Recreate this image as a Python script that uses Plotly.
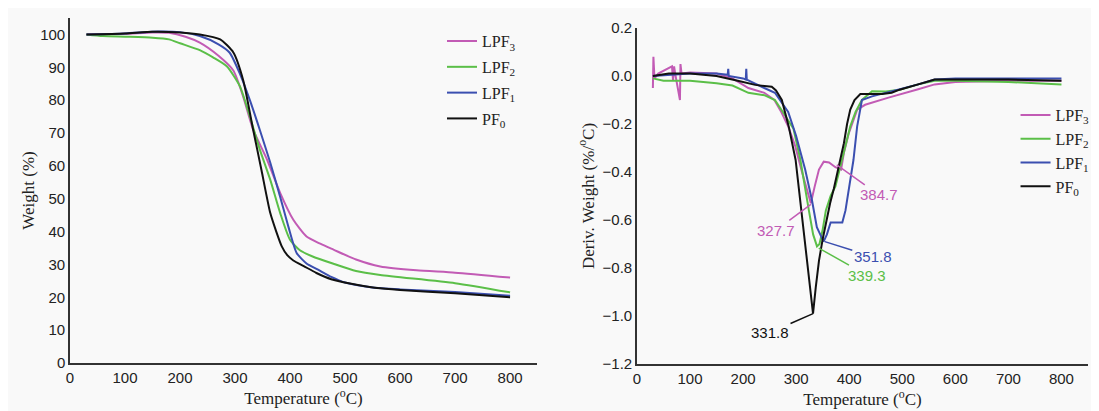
import plotly.graph_objects as go

# TGA curves (weight %, left panel)
t_pf0 = [30, 100, 150, 200, 236, 273, 297, 315, 333, 348, 364, 375, 385, 395, 406, 425, 448, 475, 509, 558, 600, 700, 800]
w_pf0 = [100, 100.3, 100.8, 100.6, 100, 98.5, 94.5, 86, 71, 58.8, 45.7, 40, 35.5, 32.8, 31.2, 29.5, 27.4, 25.5, 24.2, 22.8, 22.2, 21.2, 20]

t_lpf1 = [30, 100, 160, 200, 236, 270, 290, 309, 327, 345, 364, 382, 397, 412, 430, 450, 475, 500, 550, 600, 700, 800]
w_lpf1 = [100, 100.3, 100.9, 100.7, 99.5, 97, 94.5, 88, 80, 71, 61, 50.6, 41.5, 33.5, 30.3, 28.5, 26.2, 24.5, 23, 22.4, 21.6, 20.5]

t_lpf2 = [30, 60, 100, 150, 180, 200, 236, 260, 285, 309, 327, 345, 364, 382, 400, 418, 440, 479, 520, 564, 700, 800]
w_lpf2 = [100, 99.5, 99.3, 99, 98.5, 97.3, 95.2, 93, 90.3, 84.2, 75, 65, 55.8, 45.7, 37.5, 34.3, 32.5, 30.2, 28, 26.8, 24.3, 21.5]

t_lpf3 = [30, 100, 150, 180, 210, 236, 270, 297, 315, 333, 358, 382, 406, 430, 455, 479, 520, 564, 630, 700, 800]
w_lpf3 = [100, 100.2, 100.6, 100.5, 99.3, 97.5, 93.5, 89, 81, 71, 62, 51.8, 43.6, 38.5, 36.3, 34.5, 31.5, 29.4, 28.2, 27.5, 26]

# DTG curves (deriv. weight %/C, right panel)
td_pf0 = [30, 60, 100, 150, 190, 223, 254, 262, 273, 286, 299, 307, 314, 322, 331.8, 337, 343, 350, 357, 364, 371, 380, 390, 396, 402, 410, 421, 440, 462, 480, 495, 530, 561, 600, 700, 800]
d_pf0 = [0, 0.01, 0.01, 0, -0.02, -0.037, -0.045, -0.06, -0.1, -0.21, -0.35, -0.5, -0.63, -0.8, -0.99, -0.88, -0.77, -0.68, -0.6, -0.53, -0.47, -0.38, -0.28, -0.2, -0.14, -0.1, -0.075, -0.075, -0.075, -0.07, -0.057, -0.035, -0.015, -0.015, -0.015, -0.02]

td_lpf1 = [30, 100, 150, 171, 172, 173, 200, 205, 206, 207, 240, 260, 285, 300, 317, 330, 339, 351.8, 358, 365, 375, 387, 393, 400, 408, 415, 424, 443, 470, 495, 530, 561, 600, 700, 800]
d_lpf1 = [0, 0.01, 0.01, 0.005, 0.03, 0.0, -0.01, -0.015, 0.03, -0.015, -0.05, -0.07, -0.15, -0.25, -0.39, -0.52, -0.63, -0.69, -0.66, -0.61, -0.61, -0.61, -0.56, -0.46, -0.35, -0.21, -0.1, -0.085, -0.07, -0.057, -0.035, -0.015, -0.01, -0.01, -0.01]

td_lpf2 = [30, 50, 100, 150, 180, 210, 240, 260, 275, 295, 308, 316, 324, 332, 339.3, 344, 350, 356, 365, 374, 386, 394, 402, 412, 424, 443, 469, 495, 530, 561, 600, 700, 800]
d_lpf2 = [-0.01, -0.02, -0.02, -0.03, -0.04, -0.07, -0.08, -0.1, -0.15, -0.22, -0.35, -0.46, -0.56, -0.66, -0.71, -0.7, -0.64, -0.56, -0.5, -0.46, -0.35, -0.28, -0.21, -0.15, -0.1, -0.064, -0.065, -0.057, -0.035, -0.02, -0.02, -0.025, -0.035]

td_lpf3 = [30, 31, 33, 40, 66, 68, 70, 72, 81, 82, 84, 100, 150, 180, 210, 240, 259, 272, 285, 298, 311, 320, 327.7, 335, 343, 352, 362, 374, 384.7, 390, 399, 415, 430, 474, 500, 530, 561, 600, 700, 800]
d_lpf3 = [-0.05, 0.08, -0.01, 0.01, 0.04, -0.02, 0.04, 0.01, -0.1, 0.05, 0.01, 0.015, 0.01, -0.01, -0.05, -0.07, -0.1, -0.15, -0.21, -0.29, -0.4, -0.47, -0.53, -0.46, -0.39, -0.357, -0.36, -0.38, -0.39, -0.32, -0.24, -0.14, -0.12, -0.09, -0.075, -0.055, -0.035, -0.025, -0.02, -0.02]

names = ['LPF<sub>3</sub>', 'LPF<sub>2</sub>', 'LPF<sub>1</sub>', 'PF<sub>0</sub>']
colors = ['#c25bb5', '#5bbf48', '#3b4fb0', '#111111']

# peak labels: (temperature, value, text, colour index, x offset, y offset)
peaks = [
    (376.6, -0.37, '384.7', 0, 42, 30),
    (327.7, -0.535, '327.7', 0, -35, 26),
    (354, -0.69, '351.8', 2, 48, 15),
    (342.6, -0.717, '339.3', 1, 48, 27),
    (331.8, -0.99, '331.8', 3, -43, 19),
]

fig = go.Figure()

tga = [(t_lpf3, w_lpf3), (t_lpf2, w_lpf2), (t_lpf1, w_lpf1), (t_pf0, w_pf0)]
dtg = [(td_lpf3, d_lpf3), (td_lpf2, d_lpf2), (td_lpf1, d_lpf1), (td_pf0, d_pf0)]

for i, (t, w) in enumerate(tga):
    fig.add_trace(go.Scatter(x=t, y=w, mode='lines', name=names[i],
                             line=dict(color=colors[i], width=2, shape='spline', smoothing=0.6),
                             legendgroup='a%d' % i, xaxis='x', yaxis='y', legend='legend'))
for i, (t, d) in enumerate(dtg):
    fig.add_trace(go.Scatter(x=t, y=d, mode='lines', name=names[i],
                             line=dict(color=colors[i], width=2),
                             legendgroup='b%d' % i, xaxis='x2', yaxis='y2', legend='legend2'))

for t, v, txt, ci, ax, ay in peaks:
    fig.add_annotation(x=t, y=v, xref='x2', yref='y2', text=txt, showarrow=True,
                       arrowhead=0, arrowwidth=1.5, arrowcolor=colors[ci],
                       ax=ax, ay=ay, font=dict(family='Liberation Sans', size=15, color=colors[ci]))

axis_common = dict(showline=True, linecolor='#333333', linewidth=1.5, showgrid=False,
                   zeroline=False, ticks='', mirror=False, automargin=False,
                   tickfont=dict(family='Liberation Sans', size=15, color='#222222'))
title_font = dict(family='Liberation Serif', size=17, color='#222222')
legend_font = dict(family='Liberation Serif', size=16, color='#222222')

# page body has an 8px margin, so the figure is 8px smaller each way
fig.update_layout(
    width=1091, height=403,
    margin=dict(l=0, r=0, t=0, b=0, autoexpand=False),
    paper_bgcolor='#f9f9f9', plot_bgcolor='#f9f9f9',
    xaxis=dict(domain=[0.0568, 0.4849], range=[0, 849], dtick=100, anchor='y',
               title=dict(text='Temperature (<sup>o</sup>C)', font=title_font, standoff=6), **axis_common),
    yaxis=dict(domain=[0.1191, 0.9752], range=[0, 105], dtick=10, anchor='x',
               title=dict(text='Weight (%)', font=title_font, standoff=1), **axis_common),
    xaxis2=dict(domain=[0.5765, 0.9899], range=[0, 850], dtick=100, anchor='y2',
                title=dict(text='Temperature (<sup>o</sup>C)', font=title_font, standoff=6), **axis_common),
    yaxis2=dict(domain=[0.1166, 0.9504], range=[-1.2, 0.2], dtick=0.2, tickformat='.1f', anchor='x2',
                title=dict(text='Deriv. Weight (%/<sup>o</sup>C)', font=title_font, standoff=4), **axis_common),
    legend=dict(x=0.3978, y=0.960, xanchor='left', yanchor='top', font=legend_font,
                bgcolor='rgba(0,0,0,0)', tracegroupgap=2, itemwidth=30),
    legend2=dict(x=0.9235, y=0.7767, xanchor='left', yanchor='top', font=legend_font,
                 bgcolor='rgba(0,0,0,0)', tracegroupgap=0, itemwidth=30),
)

fig.write_html('out.html')
